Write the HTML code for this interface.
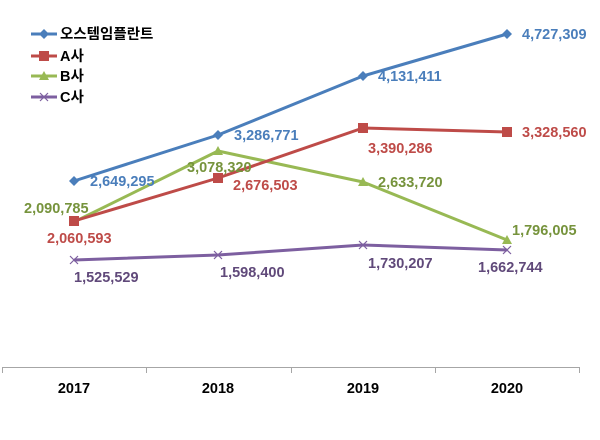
<!DOCTYPE html>
<html><head><meta charset="utf-8"><style>
body{margin:0;background:#fff}
svg text{font-family:"Liberation Sans","Noto Sans CJK KR",sans-serif;font-weight:bold;font-size:14.5px}
</style></head><body>
<svg width="600" height="435" xmlns="http://www.w3.org/2000/svg">
<rect width="600" height="435" fill="#fff"/>
<g stroke-width="3">
<line x1="31" y1="34" x2="57" y2="34" stroke="#4a7ebb"/>
<line x1="31" y1="56" x2="57" y2="56" stroke="#be4b48"/>
<line x1="31" y1="76" x2="57" y2="76" stroke="#98b954"/>
<line x1="31" y1="97" x2="57" y2="97" stroke="#7d5fa0"/>
</g>
<path d="M44 29 L49 34 L44 39 L39 34Z" fill="#4a7ebb"/>
<rect x="39" y="51" width="10" height="10" fill="#be4b48"/>
<path d="M44 71 L49 80 L39 80Z" fill="#98b954"/>
<path d="M40 93 L48 101 M48 93 L40 101" stroke="#7d5fa0" stroke-width="1.2"/>
<g fill="#000" style="font-size:14px">
<text x="60" y="39">오스템임플란트</text>
<text x="60" y="61">A사</text>
<text x="60" y="81">B사</text>
<text x="60" y="102">C사</text>
</g>
<g stroke="#a6a6a6" stroke-width="1">
<line x1="2" y1="367.5" x2="579" y2="367.5"/>
<line x1="2.5" y1="367" x2="2.5" y2="373"/>
<line x1="146.5" y1="367" x2="146.5" y2="373"/>
<line x1="291.5" y1="367" x2="291.5" y2="373"/>
<line x1="435.5" y1="367" x2="435.5" y2="373"/>
<line x1="579.5" y1="367" x2="579.5" y2="373"/>
</g>
<g fill="#000" text-anchor="middle" style="font-size:13.5px">
<text x="74" y="393">2017</text><text x="218" y="393">2018</text>
<text x="363" y="393">2019</text><text x="507" y="393">2020</text>
</g>
<g fill="none" stroke-width="3" stroke-linejoin="round">
<polyline points="74,260 218,255 363,245 507,250" stroke="#7d5fa0"/>
<polyline points="74,222 218,151 363,182 507,240" stroke="#98b954"/>
<polyline points="74,221 218,178 363,128 507,132" stroke="#be4b48"/>
<polyline points="74,181 218,135 363,76 507,34" stroke="#4a7ebb"/>
</g>
<g stroke="#7d5fa0" stroke-width="1.2">
<path d="M70 256 L78 264 M78 256 L70 264"/><path d="M214 251 L222 259 M222 251 L214 259"/>
<path d="M359 241 L367 249 M367 241 L359 249"/><path d="M503 246 L511 254 M511 246 L503 254"/>
</g>
<g fill="#98b954">
<path d="M74 217 L79 226 L69 226Z"/><path d="M218 146 L223 155 L213 155Z"/>
<path d="M363 177 L368 186 L358 186Z"/><path d="M507 235 L512 244 L502 244Z"/>
</g>
<g fill="#be4b48">
<rect x="69" y="216" width="10" height="10"/><rect x="213" y="173" width="10" height="10"/>
<rect x="358" y="123" width="10" height="10"/><rect x="502" y="127" width="10" height="10"/>
</g>
<g fill="#4a7ebb">
<path d="M74 176 L79 181 L74 186 L69 181Z"/><path d="M218 130 L223 135 L218 140 L213 135Z"/>
<path d="M363 71 L368 76 L363 81 L358 76Z"/><path d="M507 29 L512 34 L507 39 L502 34Z"/>
</g>
<g fill="#4a7ebb">
<text x="90" y="186">2,649,295</text><text x="234" y="140">3,286,771</text>
<text x="378" y="81">4,131,411</text><text x="522" y="39">4,727,309</text>
</g>
<g fill="#be4b48">
<text x="47" y="243">2,060,593</text><text x="233" y="190">2,676,503</text>
<text x="368" y="153">3,390,286</text><text x="522" y="137">3,328,560</text>
</g>
<g fill="#76933c">
<text x="24" y="213">2,090,785</text><text x="187" y="172">3,078,320</text>
<text x="378" y="187">2,633,720</text><text x="512" y="235">1,796,005</text>
</g>
<g fill="#60497a">
<text x="74" y="282">1,525,529</text><text x="220" y="277">1,598,400</text>
<text x="368" y="268">1,730,207</text><text x="478" y="272">1,662,744</text>
</g>
</svg>
</body></html>
